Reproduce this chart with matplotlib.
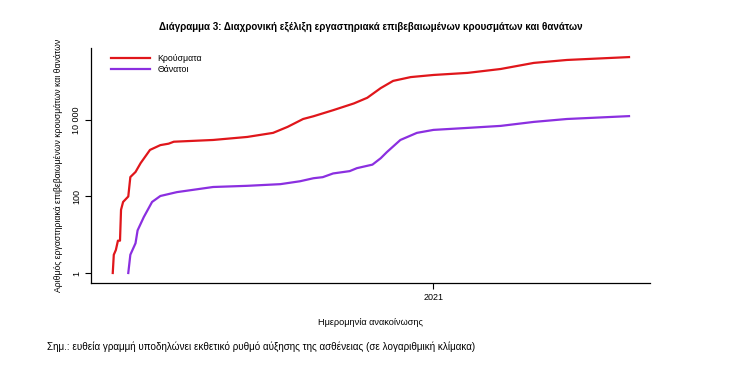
import numpy as np
import pandas as pd
import matplotlib
matplotlib.use('Agg')
import matplotlib.pyplot as plt
import matplotlib.dates as mdates

plt.rcParams['font.family'] = ['Liberation Sans', 'DejaVu Sans']

# cumulative cases
case_dates = ['2020-02-26', '2020-02-27', '2020-02-29', '2020-03-02', '2020-03-04',
              '2020-03-05', '2020-03-07', '2020-03-12', '2020-03-14', '2020-03-19',
              '2020-03-24', '2020-04-02', '2020-04-12', '2020-04-20', '2020-04-25',
              '2020-06-02', '2020-07-05', '2020-07-30', '2020-08-13', '2020-08-28',
              '2020-09-07', '2020-09-26', '2020-10-16', '2020-10-29', '2020-11-11',
              '2020-11-23', '2020-12-10', '2021-01-01', '2021-02-03', '2021-03-07',
              '2021-04-08', '2021-05-10', '2021-07-09']
cases = [1, 3, 4, 7, 7, 45, 72, 100, 322, 437,
         750, 1650, 2200, 2400, 2700, 3000, 3600, 4600, 6600, 10600,
         12500, 18000, 27000, 38000, 68000, 105000, 132000, 150000, 170000, 215000,
         310000, 370000, 440000]

# cumulative deaths
death_dates = ['2020-03-12', '2020-03-14', '2020-03-19', '2020-03-21', '2020-03-27',
               '2020-04-04', '2020-04-12', '2020-04-28', '2020-06-02', '2020-07-05',
               '2020-08-06', '2020-08-25', '2020-09-07', '2020-09-16', '2020-09-26',
               '2020-10-12', '2020-10-19', '2020-11-03', '2020-11-11', '2020-11-17',
               '2020-11-30', '2020-12-16', '2021-01-01', '2021-02-03', '2021-03-07',
               '2021-04-08', '2021-05-10', '2021-07-09']
deaths = [1, 3, 6, 13, 29, 72, 103, 130, 177, 190,
          210, 250, 300, 320, 400, 460, 550, 680, 1000, 1450,
          3000, 4600, 5500, 6200, 7000, 8900, 10600, 12600]

yticks = [1, 100, 10000]
ytick_labels = ['1', '100', '10 000']

fig = plt.figure(figsize=(7.3, 3.89), dpi=100)
ax = fig.add_axes([0.1247, 0.2725, 0.7653, 0.6041])

ax.plot(pd.to_datetime(case_dates), cases, color='#e0161b', lw=1.6, label='Κρούσματα')
ax.plot(pd.to_datetime(death_dates), deaths, color='#8b2fe0', lw=1.6, label='Θάνατοι')

ax.set_yscale('log')
ax.set_ylim(0.548, 7.6e5)
ax.set_xlim(pd.Timestamp('2020-02-05'), pd.Timestamp('2021-07-29'))
ax.set_yticks(yticks)
ax.set_yticklabels(ytick_labels, rotation=90, va='center', fontsize=6.5)
ax.yaxis.set_minor_locator(matplotlib.ticker.NullLocator())
ax.set_xticks([pd.Timestamp('2021-01-01')])
ax.xaxis.set_major_formatter(mdates.DateFormatter('%Y'))
ax.tick_params(axis='x', labelsize=6.5, length=4, width=0.8)
ax.tick_params(axis='y', length=4, width=0.8, pad=3)

for s in ['top', 'right']:
    ax.spines[s].set_visible(False)
for s in ['left', 'bottom']:
    ax.spines[s].set_linewidth(0.9)

ax.set_xlabel('Ημερομηνία ανακοίνωσης', fontsize=6.6, labelpad=11)
ax.set_ylabel('Αριθμός εργαστηριακά επιβεβαιωμένων κρουσμάτων και θανάτων', fontsize=6.2, labelpad=7)

ax.legend(loc='upper left', frameon=False, fontsize=6.3, handlelength=4.4,
          handletextpad=0.9, borderaxespad=0.3, labelspacing=0.2,
          bbox_to_anchor=(0.025, 1.0))

fig.text(0.508, 0.93, 'Διάγραμμα 3: Διαχρονική εξέλιξη εργαστηριακά επιβεβαιωμένων κρουσμάτων και θανάτων',
         ha='center', va='center', fontsize=7, fontweight='bold')
fig.text(0.064, 0.108, 'Σημ.: ευθεία γραμμή υποδηλώνει εκθετικό ρυθμό αύξησης της ασθένειας (σε λογαριθμική κλίμακα)',
         ha='left', va='center', fontsize=7.1)

fig.savefig('out.png', dpi=100)
